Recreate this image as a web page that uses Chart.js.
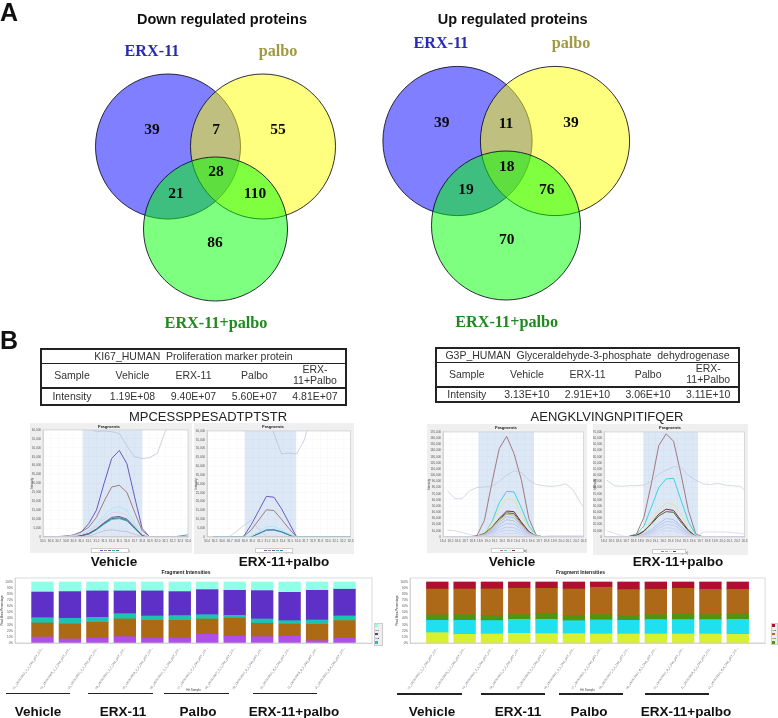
<!DOCTYPE html>
<html>
<head>
<meta charset="utf-8">
<script src="https://cdn.jsdelivr.net/npm/chart.js@4"></script>
<style>
  html, body { margin: 0; padding: 0; background: #fff; }
  body { position: relative; width: 778px; height: 718px; overflow: hidden; font-family: "Liberation Sans", Arial, sans-serif; }
  canvas { position: absolute; filter: blur(0.35px); }
  .t { position: absolute; transform: translate(-50%, -50%); white-space: pre; filter: blur(0.25px); }
  .panel { font-size: 25px; font-weight: bold; color: #111; }
  .head { font-size: 14.5px; font-weight: bold; color: #111; }
  .set { font-family: "Liberation Serif", serif; font-weight: bold; font-size: 16.2px; }
  .seq { font-size: 13px; color: #222; }
  .group { font-size: 13.5px; font-weight: bold; color: #111; }
  .rule { position: absolute; height: 1.6px; background: #222; }
  table { position: absolute; border-collapse: collapse; table-layout: fixed; border: 2px solid #222; font-size: 10.5px; color: #333; text-align: center; filter: blur(0.25px); }
  td { padding: 0; line-height: 11.5px; white-space: pre; }
  tr + tr td { border-top: 1.5px solid #222; }
  tr + tr + tr td { border-top: 2px solid #222; }
  .legend { position: absolute; background: #eee; border: 1px solid #ccc; box-sizing: border-box; font-size: 2.5px; line-height: 4px; filter: blur(0.3px); overflow: hidden; }
  .legend span { display: inline-block; width: 2.5px; height: 2.5px; margin-right: 1px; }
</style>
</head>
<body>
<script>
// venn counts, same region order for both diagrams
const vennRegions = ['ERX-11', 'ERX-11 & palbo', 'palbo', 'all', 'ERX-11 & combo', 'palbo & combo', 'ERX-11+palbo'];
const downCounts = [39, 7, 55, 28, 21, 110, 86];
const upCounts = [39, 11, 39, 18, 19, 76, 70];

// table contents
const sampleNames = ['Vehicle', 'ERX-11', 'Palbo', 'ERX-\n11+Palbo'];
const ki67Intensity = ['1.19E+08', '9.40E+07', '5.60E+07', '4.81E+07'];
const g3pIntensity = ['3.13E+10', '2.91E+10', '3.06E+10', '3.11E+10'];

// retention times (min) of the fragment traces
const timesKiVehicle = [30.5, 30.6, 30.7, 30.8, 30.9, 31.0, 31.1, 31.2, 31.3, 31.4, 31.5, 31.6, 31.7, 31.8, 31.9, 32.0, 32.1, 32.2, 32.3, 32.4];
const timesKiCombo = [30.486, 30.586, 30.686, 30.786, 30.886, 30.986, 31.086, 31.186, 31.286, 31.386, 31.486, 31.586, 31.686, 31.786, 31.886, 31.986, 32.086, 32.186, 32.286, 32.386];
const timesG3pVehicle = [18.46, 18.56, 18.66, 18.76, 18.86, 18.96, 19.06, 19.16, 19.26, 19.36, 19.46, 19.56, 19.66, 19.76, 19.86, 19.96, 20.06, 20.16, 20.26, 20.36];
const timesG3pCombo = [18.44, 18.54, 18.64, 18.74, 18.84, 18.94, 19.04, 19.14, 19.24, 19.34, 19.44, 19.54, 19.64, 19.74, 19.84, 19.94, 20.04, 20.14, 20.24, 20.34];

// fragment intensities, in thousands
const kiVehicleTraces = [
  [70, 70, 70, 70, 70, 70, 61, 59, 59.5, 59, 58, 51, 45, 44, 44.5, 47, 59, 70, 70, 70],
  [0, 0, 0, 0, 0.1, 0.2, 0.5, 2, 3.5, 4, 3.5, 3, 1.5, 0.3, 0, 0, 0, 0, 0, 0],
  [0, 0, 0.1, 0.2, 0.6, 1.5, 3, 6, 10, 13.5, 14, 12, 6.5, 1.5, 0, 0, 0, 0, 0, 0],
  [0, 0, 0.1, 0.3, 0.8, 2, 3.5, 7, 12, 16, 17, 15, 8, 2, 0, 0, 0, 0, 0, 0],
  [0, 0, 0, 0.1, 0.3, 0.8, 2, 4.5, 8, 11, 11.5, 10, 5.5, 1, 0, 0, 0, 0, 0, 0],
  [0, 0, 0, 0.1, 0.3, 0.7, 1.8, 4.2, 7.6, 10.3, 10.8, 9.4, 5, 0.8, 0, 0, 0, 0, 0, 0],
  [0, 0, 0, 0, 0.2, 0.6, 1.6, 4, 7.2, 9.9, 10.3, 9, 4.8, 0.7, 0, 0, 0, 0, 0.6, 1.2],
  [0, 0.1, 0.2, 0.4, 1.1, 2.8, 5.5, 11, 20, 28, 29, 25, 14, 3.5, 0, 0, 0, 0, 0, 0],
  [0, 0.1, 0.25, 0.5, 1.1, 2.8, 7.5, 15, 30, 44, 48.5, 41, 22.5, 4.7, 0, 0, 0, 0, 0, 0]
];
const kiComboTraces = [
  [70, 70, 70, 70, 70, 70, 70, 70, 58.5, 47, 47.5, 47, 54.7, 70, 70, 70, 70, 70, 70, 70],
  [0, 0, 0, 3, 6.5, 9.4, 4.5, 0.3, 0, 0, 0, 0, 0, 0, 0, 0, 0, 0, 0, 0],
  [0, 0, 0, 0, 0, 0.5, 3, 5.8, 6, 4, 1.8, 0, 0, 0, 0, 0, 0, 0, 0, 0],
  [0, 0, 0, 0, 0, 0.2, 2, 4, 4.1, 3, 1.2, 0, 0, 0, 0, 0, 0, 0, 0, 0],
  [0, 0, 0, 0, 0, 0.2, 1.8, 3.8, 3.9, 2.8, 1.1, 0, 0, 0, 0, 0, 0, 0, 0, 0],
  [0, 0, 0, 0, 0.3, 4, 9.7, 15.4, 15, 10, 4.7, 0, 0, 0, 0, 0, 0, 0, 0, 0],
  [0, 0, 0, 0, 0.4, 7, 15, 23, 22.5, 16, 8, 0, 0, 0, 0, 0, 0, 0, 0, 0]
];
const g3pVehicleTraces = [
  [75, 62, 62, 75, 80, 81, 82, 90, 100, 107, 104, 92, 85, 83, 82, 83, 86, 76, 55, 40],
  [11, 10, 7, 4, 1, 0, 0, 0, 0, 0, 0, 0, 0, 1, 2, 2, 2, 2, 2, 2],
  [0, 0, 0, 0, 0.3, 0.8, 2, 4, 6, 6, 4, 1.5, 0.2, 0, 0, 0, 0, 0, 0, 0],
  [0, 0, 0, 0, 0.4, 1.5, 4, 8, 11, 10, 6, 2.5, 0.4, 0, 0, 0, 0, 0, 0, 0],
  [0, 0, 0, 0, 0.5, 2, 6, 12, 16, 15, 9, 3.5, 0.5, 0, 0, 0, 0, 0, 0, 0],
  [0, 0, 0, 0, 0.6, 2.6, 8, 16, 22, 21, 12, 5, 0.6, 0, 0, 0, 0, 0, 0, 0],
  [0, 0, 0, 0, 0.8, 3.5, 10, 20, 28, 26, 15, 6, 0.8, 0, 0, 0, 0, 0, 0, 0],
  [0, 0, 0, 0, 1, 4, 12, 24, 33, 31, 18, 7, 1, 0, 0, 0, 0, 0, 0, 0],
  [0, 0, 0, 0.2, 1.2, 5, 15, 27, 37, 35, 20, 7, 1, 0, 0, 0, 0, 0, 0, 0],
  [0, 0, 0, 0.3, 1.5, 6, 16, 29, 39, 38, 22, 8, 1, 0, 0, 0, 0, 0, 0, 0],
  [0, 0, 0, 0.2, 1, 5, 15, 30, 42, 41, 24, 9, 1, 0, 0, 0, 0, 0, 0, 0],
  [0, 0, 0, 0, 0.8, 6, 22, 45, 62, 60, 38, 14, 2, 0, 0, 0, 0, 0, 0, 0],
  [0, 0, 0, 0, 0.8, 5, 24, 55, 74, 73, 47, 18, 3, 0, 0, 0, 0, 0, 0, 0],
  [0, 0, 0, 0, 2.7, 27, 87, 143, 163, 135, 92, 30, 3, 0, 0, 0, 0, 0, 0, 0]
];
const g3pComboTraces = [
  [92, 83, 82, 83, 83, 84, 90, 102, 108, 114, 112, 100, 92, 86, 85, 87, 84, 83, 82, 72],
  [10, 6, 2, 0, 0, 0, 0, 0, 0, 0, 0, 0, 0, 8, 8, 8, 8, 7, 6, 4],
  [0, 0, 0, 0, 0.4, 1.5, 3, 6, 10, 10, 6, 2, 0.3, 0, 0, 0, 0, 0, 0, 0],
  [0, 0, 0, 0, 0.5, 2, 5, 10, 15, 14, 9, 3.5, 0.4, 0, 0, 0, 0, 0, 0, 0],
  [0, 0, 0, 0.2, 0.7, 3, 7, 14, 20, 19, 12, 5, 0.6, 0, 0, 0, 0, 0, 0, 0],
  [0, 0, 0, 0.3, 1, 4, 9, 18, 25, 24, 15, 6, 0.8, 0, 0, 0, 0, 0, 0, 0],
  [0, 0, 0, 0.4, 1.4, 5, 12, 22, 30, 28, 18, 7, 1, 0, 0, 0, 0, 0, 0, 0],
  [0, 0, 0, 1, 3, 10, 21, 34, 41, 40, 24, 10, 1, 0, 0, 0, 0, 0, 0, 0],
  [0, 0, 0, 0.5, 2, 9, 22, 37, 45, 43, 27, 11, 1, 0, 0, 0, 0, 0, 0, 0],
  [0, 0, 0, 0.3, 2, 9, 26, 44, 55, 53, 36, 15, 2, 0, 0, 0, 0, 0, 0, 0],
  [0, 0, 0, 0.5, 4, 18, 48, 80, 94, 95, 60, 25, 4, 0, 0, 0, 0, 0, 0, 0],
  [0, 0, 0, 1, 5, 32, 86, 148, 167, 155, 102, 43, 5, 0, 0, 0, 0, 0, 0, 0]
];

// fragment shares per run, percent, bottom to top
const sampleLabels = [
  '01_180503N10_1_1_Day_pSY_100...', '02_180503N08_1_2_Day_pSY_100...', '03_180503N10_2_1_Day_pSY_100...',
  '04_180503N10_2_2_Day_pSY_100...', '05_180503N08_2_3_Day_pSY_100...', '06_180503N10_3_1_Day_pSY_100...',
  '07_180503N10_3_2_Day_pSY_100...', '08_180503N07_3_3_Day_pSY_100...', '09_180503N10_4_1_Day_pSY_100...',
  '10_180503N10_4_2_Day_pSY_100...', '11_180503N08_4_3_Day_pSY_100...', '12_180503N10_4_4_Day_pSY_100...'
];
const kiFragmentNames = ['y5', 'y6', 'y10', 'y12', 'y14'];
const kiFragmentShares = [
  [9.8, 6.6, 8.2, 10.4, 8.2, 8.2, 14.2, 10.9, 10.4, 10.9, 3.8, 7.7],
  [23, 24.6, 25.7, 29, 29, 29, 25.1, 30, 21.9, 20.2, 26.8, 29],
  [8.7, 9.3, 8.2, 8.7, 7.1, 7.7, 7.1, 4.4, 7.1, 5.5, 7.1, 7.7],
  [42, 43.7, 43.2, 37.2, 41, 39.3, 41, 41, 46.4, 46.4, 48.6, 43.7],
  [16.5, 15.8, 14.7, 14.7, 14.7, 15.8, 12.6, 13.7, 14.2, 16.9, 13.7, 11.9]
];
const g3pFragmentNames = ['y7', 'y8', 'y9', 'y10', 'y13'];
const g3pFragmentShares = [
  [16.9, 14.2, 14.8, 15.8, 15.3, 15.3, 14.8, 14.8, 14.8, 14.8, 14.8, 14.2],
  [20.2, 23, 21.9, 23, 23.5, 21.3, 23, 22.4, 23.5, 23.5, 23.5, 24.6],
  [9.3, 9.3, 8.7, 7.7, 9.3, 8.7, 8.7, 7.7, 8.2, 9.3, 8.2, 8.7],
  [42, 42, 43.2, 43.2, 41.5, 43.2, 44.8, 42.6, 41.5, 42, 41.5, 40.4],
  [11.6, 11.5, 11.4, 10.3, 10.4, 11.5, 8.7, 12.5, 12, 10.4, 12, 12.1]
];

// colours
const vennFill = ['rgba(0,0,255,.5)', 'rgba(255,255,0,.5)', 'rgba(0,255,0,.5)'];
const kiVehicleColors = ['rgba(185,185,205,.65)', '#c8c0d8', '#e2cfea', '#a8ecee', '#5a6080', '#4a70b0', '#30b8a8', '#a07a80', '#6a5ac0'];
const kiComboColors = ['rgba(185,185,205,.65)', 'rgba(200,195,210,.7)', '#a8ecee', '#4a70b0', '#30b8a8', '#a07a80', '#6a5ac0'];
const g3pColors = ['rgba(190,190,210,.6)', 'rgba(200,200,215,.6)', '#d5d8f0', '#ccd2f0', '#c4ccec', '#bcc6ea', '#b4c0e8', '#aebce6', '#c8b060', '#506a30', '#802848', '#dde8a0', '#40d0e0', '#a07880'];
const g3pComboColors = ['rgba(190,190,210,.6)', 'rgba(200,200,215,.6)', '#d5d8f0', '#ccd2f0', '#c4ccec', '#bcc6ea', '#b4c0e8', '#506a30', '#802848', '#dde8a0', '#40d0e0', '#a07880'];
const kiBarColors = ['#ad4fe8', '#ad6a14', '#1cc4b0', '#5f30c8', '#8fffe8'];
const g3pBarColors = ['#d8f030', '#20dfef', '#4f9510', '#ad6818', '#b01030'];

// ---- page text ----
function addText(cls, text, x, y, color) {
  const el = document.createElement('div');
  el.className = 't ' + cls;
  el.textContent = text;
  el.style.left = x + 'px';
  el.style.top = y + 'px';
  if (color) el.style.color = color;
  document.body.appendChild(el);
}
function addRule(x1, x2, y) {
  const el = document.createElement('div');
  el.className = 'rule';
  el.style.left = x1 + 'px';
  el.style.width = (x2 - x1) + 'px';
  el.style.top = y + 'px';
  document.body.appendChild(el);
}
function addCanvas(x, y, w, h, bg) {
  const c = document.createElement('canvas');
  c.width = w;
  c.height = h;
  c.style.left = x + 'px';
  c.style.top = y + 'px';
  c.style.width = w + 'px';
  c.style.height = h + 'px';
  if (bg) c.style.background = bg;
  document.body.appendChild(c);
  return c;
}
function addTable(title, values, x, y, w, h) {
  const t = document.createElement('table');
  t.style.left = x + 'px';
  t.style.top = y + 'px';
  t.style.width = w + 'px';
  t.style.height = h + 'px';
  const cells = a => a.map(v => '<td>' + v + '</td>').join('');
  t.innerHTML = '<tr style="height:14px"><td colspan="5">' + title + '</td></tr>' +
    '<tr style="height:25px">' + cells(['Sample', ...sampleNames]) + '</tr>' +
    '<tr>' + cells(['Intensity', ...values]) + '</tr>';
  document.body.appendChild(t);
}
function addLegend(names, colors, x, y, w, h) {
  const el = document.createElement('div');
  el.className = 'legend';
  el.style.left = x + 'px';
  el.style.top = y + 'px';
  el.style.width = w + 'px';
  el.style.height = h + 'px';
  el.innerHTML = names.map((n, i) => '<div><span style="background:' + colors[i] + '"></span>' + n + '</div>').reverse().join('');
  document.body.appendChild(el);
}

// ---- venn diagrams ----
const vennText = {
  id: 'vennText',
  afterDatasetsDraw(chart, args, opts) {
    const { ctx, scales } = chart;
    ctx.save();
    ctx.font = 'bold 15.5px "Liberation Serif"';
    ctx.fillStyle = '#0a0a0a';
    ctx.textAlign = 'center';
    ctx.textBaseline = 'middle';
    opts.counts.forEach((n, i) => {
      ctx.fillText(n, scales.x.getPixelForValue(opts.spots[i][0]), scales.y.getPixelForValue(opts.spots[i][1]));
    });
    ctx.restore();
  }
};
function vennChart(canvas, circles, xMin, xMax, counts, spots) {
  return new Chart(canvas, {
    type: 'bubble',
    data: {
      datasets: circles.map((c, i) => ({
        label: ['ERX-11', 'palbo', 'ERX-11+palbo'][i],
        data: [{ x: c[0], y: c[1], r: c[2] }],
        backgroundColor: vennFill[i],
        borderColor: 'rgba(10,10,30,.85)',
        borderWidth: 1,
        order: 3 - i
      }))
    },
    options: {
      responsive: false,
      animation: false,
      events: [],
      layout: { autoPadding: false },
      scales: {
        x: { display: false, min: xMin, max: xMax },
        y: { display: false, min: 0, max: 340, reverse: true }
      },
      plugins: { legend: { display: false }, tooltip: { enabled: false }, vennText: { counts, spots } }
    },
    plugins: [vennText]
  });
}
vennChart(addCanvas(0, 0, 360, 340), [[168, 146.5, 72.5], [263, 146.5, 72.5], [215.5, 229, 72]], 0, 360, downCounts,
  [[152, 130], [216, 130], [278, 130], [216, 172], [176, 194], [255, 194], [215, 243]]);
vennChart(addCanvas(360, 0, 418, 340), [[457.5, 141, 74.6], [555, 141, 74.6], [506, 225.5, 74.5]], 360, 778, upCounts,
  [[441.7, 123], [506, 124], [571, 123], [506.7, 167], [466, 190], [546.7, 190], [506.7, 240]]);

addText('panel', 'A', 9, 12);
addText('panel', 'B', 9, 340);
addText('head', 'Down regulated proteins', 222, 19);
addText('head', 'Up regulated proteins', 512.7, 19);
addText('set', 'ERX-11', 152, 51, '#2a2ab8');
addText('set', 'palbo', 278, 51, '#a09a45');
addText('set', 'ERX-11+palbo', 216, 323, '#1f8a1f');
addText('set', 'ERX-11', 441, 43, '#2a2ab8');
addText('set', 'palbo', 571, 43, '#a09a45');
addText('set', 'ERX-11+palbo', 506.7, 322, '#1f8a1f');

addTable('KI67_HUMAN  Proliferation marker protein', ki67Intensity, 40, 348, 307, 58);
addTable('G3P_HUMAN  Glyceraldehyde-3-phosphate  dehydrogenase', g3pIntensity, 435, 347, 305, 56);
addText('seq', 'MPCESSPPESADTPTSTR', 208, 416);
addText('seq', 'AENGKLVINGNPITIFQER', 607, 416);

// ---- fragment traces ----
const plotBackdrop = {
  id: 'plotBackdrop',
  beforeDraw(chart, args, opts) {
    const { ctx, chartArea: a, scales } = chart;
    ctx.save();
    ctx.fillStyle = '#fff';
    ctx.fillRect(a.left, a.top, a.width, a.height);
    if (opts.band) {
      const x1 = scales.x.getPixelForValue(opts.band[0]);
      const x2 = scales.x.getPixelForValue(opts.band[1]);
      ctx.fillStyle = '#dde8f7';
      ctx.fillRect(x1, a.top, x2 - x1, a.height);
    }
    ctx.restore();
  },
  afterDraw(chart) {
    const { ctx, chartArea: a } = chart;
    ctx.save();
    ctx.strokeStyle = '#ccc';
    ctx.lineWidth = 0.7;
    ctx.strokeRect(a.left, a.top, a.width, a.height);
    ctx.restore();
  }
};
function traceChart(box, plot, times, xRange, band, yMax, yStep, traces, colors) {
  const canvas = addCanvas(box[0], box[1], box[2] - box[0], box[3] - box[1], '#efefef');
  return new Chart(canvas, {
    type: 'line',
    data: {
      datasets: traces.map((t, i) => ({
        data: t.map((v, k) => ({ x: times[k], y: v })),
        borderColor: colors[i],
        borderWidth: 1,
        pointRadius: 0,
        tension: 0
      }))
    },
    options: {
      responsive: false,
      animation: false,
      events: [],
      layout: { autoPadding: false, padding: { right: box[2] - plot[2] } },
      scales: {
        x: {
          type: 'linear', min: xRange[0], max: xRange[1],
          afterFit: s => { s.height = box[3] - plot[3]; },
          grid: { color: 'rgba(120,130,150,.07)', lineWidth: 0.5, tickLength: 1.5 },
          border: { color: '#bbb', width: 0.5 },
          ticks: { stepSize: 0.1, autoSkip: false, maxRotation: 0, padding: 0.5, color: '#555', font: { size: 3 }, callback: v => v.toFixed(1) },
          title: { display: true, text: 'Retention Time (min)', color: '#444', font: { size: 3 }, padding: { top: 0.5, bottom: 0 } }
        },
        y: {
          min: 0, max: yMax,
          afterFit: s => { s.width = plot[0] - box[0]; },
          grid: { color: 'rgba(120,130,150,.07)', lineWidth: 0.5, tickLength: 1.5 },
          border: { color: '#bbb', width: 0.5 },
          ticks: { stepSize: yStep, autoSkip: false, padding: 0.5, color: '#555', font: { size: 3 }, callback: v => (v * 1000).toLocaleString('en-US') },
          title: { display: true, text: 'Intensity', color: '#444', font: { size: 3 }, padding: 0 }
        }
      },
      plugins: {
        legend: { display: false },
        tooltip: { enabled: false },
        title: { display: true, text: 'Fragments', color: '#222', font: { size: 4.3, weight: 'bold' }, padding: { top: 1, bottom: plot[1] - box[1] - 6.2 } },
        plotBackdrop: { band }
      }
    },
    plugins: [plotBackdrop]
  });
}
traceChart([30, 423, 192, 553], [43, 430, 188, 537], timesKiVehicle, [30.5, 32.4], [31.02, 31.8], 60, 5, kiVehicleTraces, kiVehicleColors);
traceChart([194, 423, 354, 554], [207, 431, 352, 537], timesKiCombo, [30.4, 32.3], [30.9, 31.58], 60, 5, kiComboTraces, kiComboColors);
traceChart([427, 424, 587, 553], [443, 432, 585, 537], timesG3pVehicle, [18.4, 20.3], [18.88, 19.63], 170, 10, g3pVehicleTraces, g3pColors);
traceChart([593, 424, 748, 555], [604, 432, 747, 537], timesG3pCombo, [18.4, 20.3], [18.93, 19.67], 170, 10, g3pComboTraces, g3pComboColors);

function traceKey(x1, x2, y1, y2, colors) {
  const el = document.createElement('div');
  el.className = 'legend';
  el.style.cssText = 'left:' + x1 + 'px;top:' + y1 + 'px;width:' + (x2 - x1) + 'px;height:' + (y2 - y1) + 'px;background:#fff;text-align:center;line-height:4px;';
  el.innerHTML = colors.map(c => '<span style="background:' + c + ';height:1px;vertical-align:middle;width:3px"></span>').join('');
  document.body.appendChild(el);
}
traceKey(91, 129, 548, 553, ['#6a5ac0', '#a07a80', '#5a6080', '#30b8a8', '#4a70b0']);
traceKey(255, 293, 548, 553, ['#6a5ac0', '#a07a80', '#5a6080', '#30b8a8', '#4a70b0']);
traceKey(491, 524, 548, 553, ['#a07880', '#40d0e0', '#dde8a0', '#802848']);
traceKey(652, 686, 549, 554, ['#a07880', '#40d0e0', '#dde8a0', '#802848']);

addText('group', 'Vehicle', 114, 561);
addText('group', 'ERX-11+palbo', 284, 561);
addText('group', 'Vehicle', 512, 561);
addText('group', 'ERX-11+palbo', 678, 561);

// ---- stacked fragment intensities ----
const withEnds = a => [null, ...a, null];
function shareChart(x, w, rightPad, yWidth, shares, colors, names) {
  const canvas = addCanvas(x, 570, w, 122);
  return new Chart(canvas, {
    type: 'bar',
    data: {
      labels: ['', ...sampleLabels, ''],
      datasets: shares.map((s, i) => ({
        label: names[i],
        data: withEnds(s),
        backgroundColor: colors[i],
        barThickness: 21.7
      }))
    },
    options: {
      responsive: false,
      animation: false,
      events: [],
      layout: { autoPadding: false, padding: { right: rightPad } },
      scales: {
        x: {
          stacked: true,
          offset: false,
          afterFit: s => { s.height = 49; },
          grid: { display: false, tickLength: 1.5 },
          border: { color: '#ccc', width: 0.7 },
          ticks: { autoSkip: false, minRotation: 55, maxRotation: 55, padding: 2, color: '#667', font: { size: 3 } },
          title: { display: true, text: 'Hit Sample', color: '#444', font: { size: 3 }, padding: 0 }
        },
        y: {
          stacked: true,
          min: 0,
          max: 106.5,
          afterFit: s => { s.width = yWidth; },
          grid: { display: false, tickLength: 1.5 },
          border: { color: '#ccc', width: 0.7 },
          ticks: { stepSize: 10, includeBounds: false, autoSkip: false, padding: 0.5, color: '#555', font: { size: 3 }, callback: v => v + '%' },
          title: { display: true, text: 'Peak Area Percentage', color: '#444', font: { size: 3 }, padding: 0 }
        }
      },
      plugins: {
        legend: { display: false },
        tooltip: { enabled: false },
        title: { display: true, text: 'Fragment Intensities', color: '#222', font: { size: 5, weight: 'bold' }, padding: { top: 0, bottom: 2 } },
        plotBackdrop: {}
      }
    },
    plugins: [plotBackdrop]
  });
}
shareChart(0, 380, 8, 15, kiFragmentShares, kiBarColors, kiFragmentNames);
shareChart(395, 375, 4, 15, g3pFragmentShares, g3pBarColors, g3pFragmentNames);
addLegend(kiFragmentNames, kiBarColors, 374, 623, 9, 23);
addLegend(g3pFragmentNames, g3pBarColors, 771, 623, 7, 22);

addRule(6, 70, 692.5);
addRule(88, 153, 692.5);
addRule(164, 229, 692.5);
addRule(253, 317, 692.5);
addRule(397, 462, 693);
addRule(481, 545, 693);
addRule(559, 623, 693);
addRule(645, 709, 693);
addText('group', 'Vehicle', 38, 711);
addText('group', 'ERX-11', 123, 711);
addText('group', 'Palbo', 198, 711);
addText('group', 'ERX-11+palbo', 294, 711);
addText('group', 'Vehicle', 432, 711);
addText('group', 'ERX-11', 518, 711);
addText('group', 'Palbo', 589, 711);
addText('group', 'ERX-11+palbo', 686, 711);
</script>
</body>
</html>
